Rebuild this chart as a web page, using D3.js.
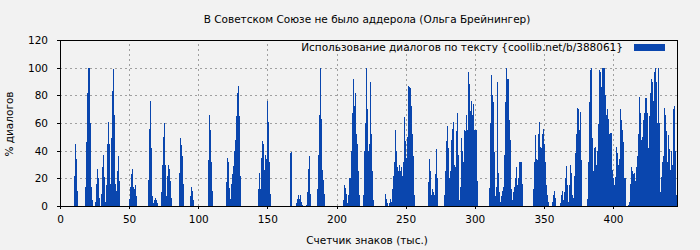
<!DOCTYPE html>
<html><head><meta charset="utf-8">
<script src="https://cdn.jsdelivr.net/npm/d3@7/dist/d3.min.js"></script>
<style>
html,body{margin:0;padding:0;background:#f2f2f2;}
svg text{font-family:"DejaVu Sans",sans-serif;fill:#000;}
</style>
</head><body>
<svg id="chart" width="700" height="250"></svg>
<script>
const titleText = "В Советском Союзе не было аддерола (Ольга Брейнингер)";
const legendText = "Использование диалогов по тексту {coollib.net/b/388061}";
const xLabelText = "Счетчик знаков (тыс.)";
const yLabelText = "% диалогов";
const xTicks = [0,50,100,150,200,250,300,350,400];
const yTicks = [0,20,40,60,80,100,120];
const xMax = 447;   // thousand characters
const yMax = 120;

// share of dialogue per text segment (%), in reading order
const dialogShare = [
0,0,0,0,0,0,0,0,0,0,0,0,0,0,
22,45,34,11,
0,0,0,0,0,0,0,
14,46,82,100,100,60,14,4,
0,0,
3,16,27,20,6,
0,
9,28,37,21,3,15,45,61,45,16,49,83,99,66,16,11,25,36,18,
0,0,0,0,0,0,0,0,0,
5,14,23,27,14,12,15,7,
0,0,0,0,0,0,0,0,0,0,0,
19,56,76,42,7,2,4,6,4,2,
0,0,0,
10,30,50,60,30,7,22,30,27,18,6,
0,0,0,0,0,0,0,
24,49,44,36,16,
0,0,0,0,0,0,
7,14,11,4,
0,0,0,0,0,0,0,0,0,0,0,0,0,0,
33,66,55,32,11,
0,0,0,0,0,0,0,0,0,0,0,0,0,
17,35,32,13,5,16,23,29,40,48,65,82,87,65,22,
0,0,0,0,0,0,0,0,0,0,0,0,0,0,0,0,0,
12,24,12,35,47,45,26,37,34,76,61,32,9,
0,0,0,0,0,0,0,0,0,0,0,0,0,0,0,0,0,0,0,
38,39,
0,0,0,0,
2,5,8,5,8,3,1,
0,0,0,
1,10,27,36,9,
0,0,0,0,0,0,
12,37,66,100,63,26,19,9,
0,0,0,0,0,0,0,0,0,0,0,0,0,0,0,0,0,0,
4,15,13,9,2,8,20,20,40,67,92,72,82,52,45,25,8,
0,0,0,
8,40,60,100,70,40,45,90,52,25,4,
0,0,0,0,0,0,0,0,0,0,0,
9,5,2,0,2,5,3,12,22,32,55,40,28,25,30,25,28,22,32,64,47,35,50,87,86,85,72,52,36,8,
0,0,0,0,0,0,0,0,0,0,0,0,0,
17,34,25,8,12,10,8,23,41,20,
0,0,0,0,0,0,
8,25,47,58,42,20,25,48,56,61,30,28,54,67,37,4,14,49,40,32,55,54,66,55,97,88,69,76,66,74,55,55,55,18,
0,0,0,0,0,0,0,0,0,0,0,
13,60,95,80,75,39,7,14,90,24,10,3,7,11,14,37,75,100,92,92,62,48,12,4,10,14,20,28,15,20,32,32,32,16,
0,0,0,0,0,0,0,0,0,0,
12,32,51,34,33,52,61,43,42,52,56,45,32,15,8,3,
0,0,0,
3,8,11,6,
0,0,0,0,
2,8,11,4,10,20,29,15,3,15,30,24,8,6,22,38,52,71,70,55,68,33,
0,0,0,0,0,
5,32,75,98,100,49,25,42,43,30,40,59,98,97,86,100,100,100,80,66,70,63,52,53,53,26,20,15,21,43,38,30,34,70,62,55,46,20,20,
0,0,
1,3,16,28,25,23,24,18,28,36,52,79,67,48,50,62,67,78,78,67,42,65,82,92,90,76,97,100,90,60,100,60,10,21,32,36,71,66,54,32,51,41,26,40,30,70,72,40,8,2
];

const barColor = "#0a46ae";
const fontSize = "10.5px";
const svg = d3.select("#chart");
const L = 60, R = 678, T = 40, B = 206;
const x = d3.scaleLinear().domain([0, xMax]).range([L, R]);
const y = d3.scaleLinear().domain([0, yMax]).range([B, T]);
const step = xMax / dialogShare.length;

svg.append("rect").attr("width",700).attr("height",250).attr("fill","#f2f2f2");

// grid
const grid = svg.append("g").attr("stroke","#a0a0a0").attr("stroke-width",1)
  .attr("stroke-dasharray","2,3").attr("shape-rendering","crispEdges");
grid.selectAll("line.gy").data(yTicks.filter(v=>v>0 && v<yMax)).join("line")
  .attr("x1",L).attr("x2",R).attr("y1",d=>Math.round(y(d))+0.5).attr("y2",d=>Math.round(y(d))+0.5);
grid.selectAll("line.gx").data(xTicks.filter(v=>v>0)).join("line")
  .attr("y1",B).attr("y2",T).attr("x1",d=>Math.round(x(d))+0.5).attr("x2",d=>Math.round(x(d))+0.5);

// bars
svg.append("g").attr("shape-rendering","crispEdges")
  .selectAll("rect").data(dialogShare).join("rect")
  .attr("x",(d,i)=>x(i*step))
  .attr("width",x(step)-x(0))
  .attr("y",d=>y(d))
  .attr("height",d=>y(0)-y(d))
  .attr("fill",barColor);

// axes
const yAxis = svg.append("g").attr("transform",`translate(${L},0)`)
  .call(d3.axisLeft(y).tickValues(yTicks).tickSize(3).tickPadding(9));
const xAxis = svg.append("g").attr("transform",`translate(0,${B})`)
  .call(d3.axisBottom(x).tickValues(xTicks).tickSize(3).tickPadding(7));
[yAxis,xAxis].forEach(a=>{
  a.select(".domain").remove();
  a.selectAll("line").attr("stroke","#000").attr("shape-rendering","crispEdges");
  a.selectAll("text").attr("font-size",fontSize).attr("font-family","DejaVu Sans").attr("fill","#000");
});

// frame
svg.append("rect").attr("x",L+0.5).attr("y",T+0.5).attr("width",R-L-1).attr("height",B-T)
  .attr("fill","none").attr("stroke","#000").attr("stroke-width",1).attr("shape-rendering","crispEdges");

// titles
svg.append("text").attr("x",367).attr("y",23).attr("text-anchor","middle")
  .attr("font-size",fontSize).text(titleText);
svg.append("text").attr("x",367).attr("y",244).attr("text-anchor","middle")
  .attr("font-size",fontSize).text(xLabelText);
svg.append("text").attr("transform","translate(13,124) rotate(-90)").attr("text-anchor","middle")
  .attr("font-size",fontSize).text(yLabelText);

// legend
svg.append("text").attr("x",623).attr("y",51).attr("text-anchor","end")
  .attr("font-size",fontSize).text(legendText);
svg.append("rect").attr("x",634).attr("y",44).attr("width",31).attr("height",7).attr("fill",barColor);
</script>
</body></html>
